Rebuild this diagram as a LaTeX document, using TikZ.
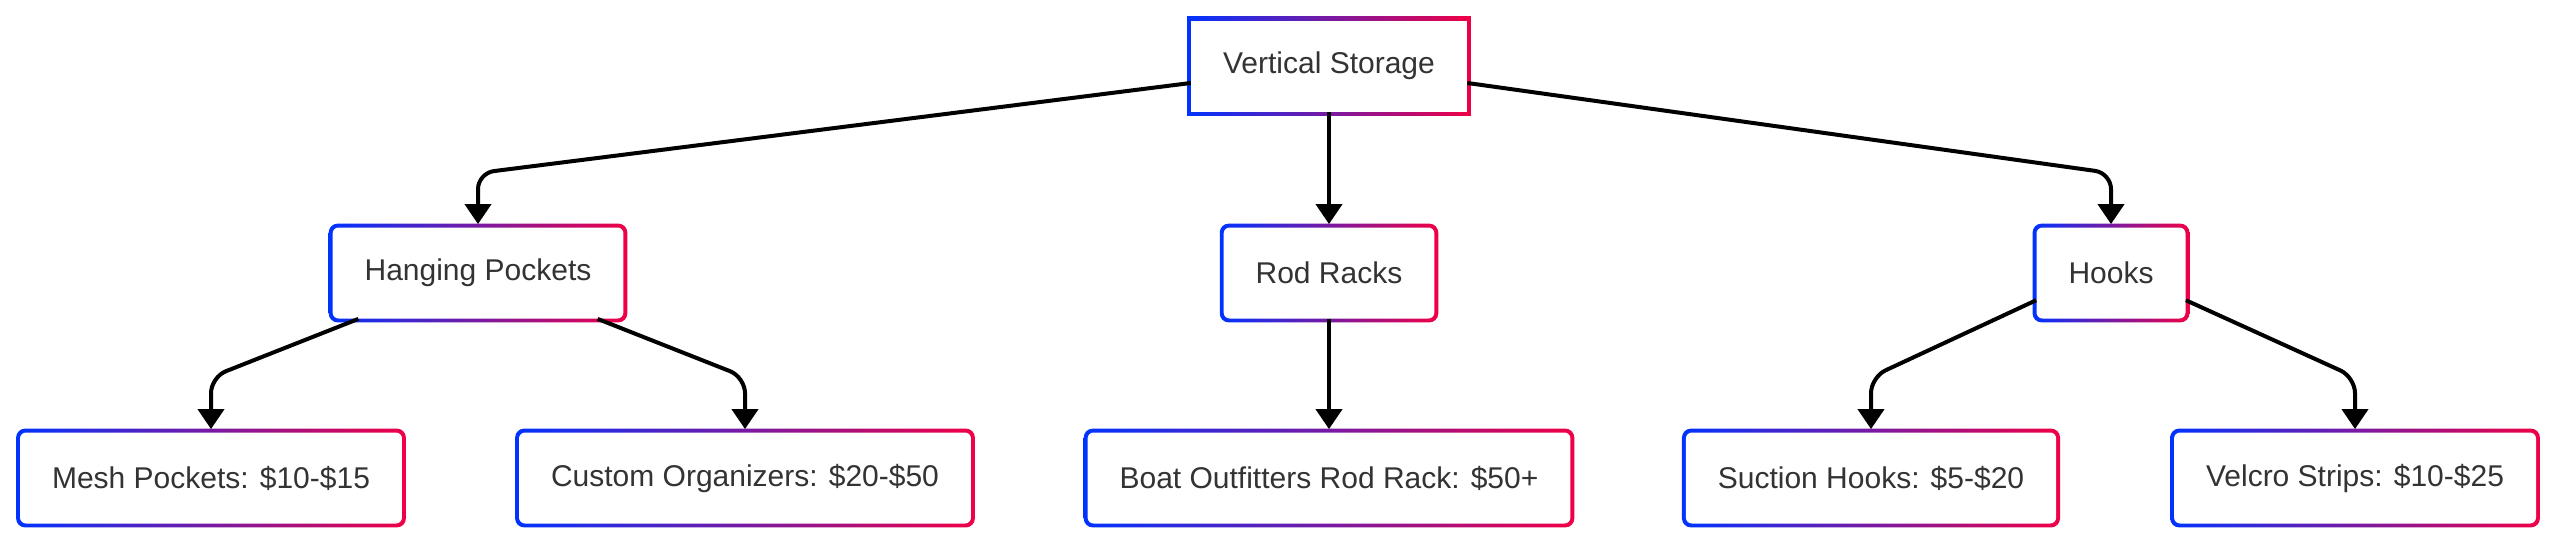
\documentclass[tikz,border=0pt]{standalone}
\usepackage{fontspec}
\setmainfont{Liberation Sans}
\usetikzlibrary{positioning,calc,backgrounds,arrows.meta}
\definecolor{vsblue}{RGB}{0,51,255}
\definecolor{vsred}{RGB}{240,0,70}
\definecolor{vstext}{RGB}{51,51,51}

\begin{document}
\begin{tikzpicture}[x=0.5pt,y=-0.5pt,
    box/.style={rectangle, fill=white, text=vstext, minimum height=45.5pt, inner xsep=16pt, rounded corners=3pt, font=\fontsize{15}{18}\selectfont},
    link/.style={line width=2pt, rounded corners=8pt, shorten >=1.5pt, -{Triangle[length=10pt,width=13pt]}}]
    \useasboundingbox (0,0) rectangle (2560,547);

    % Root
    \node[box, sharp corners] (root) at (1329,66) {Vertical Storage};

    % Categories and items
    \foreach \name/\x/\y/\text in {
        hang/478/273/Hanging Pockets,
        rod/1329/273/Rod Racks,
        hooks/2111/273/Hooks,
        mesh/211/478/Mesh Pockets: \$10-\$15,
        custom/745/478/Custom Organizers: \$20-\$50,
        boat/1329/478/Boat Outfitters Rod Rack: \$50+,
        suction/1871/478/Suction Hooks: \$5-\$20,
        velcro/2355/478/Velcro Strips: \$10-\$25
    } {
        \node[box] (\name) at (\x,\y) {\text};
    }

    % Gradient borders
    \begin{scope}[on background layer]
        \shade[left color=vsblue, right color=vsred] ([shift={(-3.5,-3.5)}]root.north west) rectangle ([shift={(3.5,3.5)}]root.south east);
        \foreach \n in {hang,rod,hooks,mesh,custom,boat,suction,velcro}
            \shade[left color=vsblue, right color=vsred, rounded corners=4.5pt] ([shift={(-3.5,-3.5)}]\n.north west) rectangle ([shift={(3.5,3.5)}]\n.south east);
    \end{scope}

    % Connectors
    \draw[link] (root.187) -- ($(hang.north)+(0,-54)$) -- (hang.north);
    \draw[link] (root.south) -- (rod.north);
    \draw[link] (root.353) -- ($(hooks.north)+(0,-54)$) -- (hooks.north);
    \draw[link] (hang.201) -- ($(mesh.north)+(0,-55)$) -- (mesh.north);
    \draw[link] (hang.339) -- ($(custom.north)+(0,-55)$) -- (custom.north);
    \draw[link] (rod.south) -- (boat.north);
    \draw[link] (hooks.200) -- ($(suction.north)+(0,-55)$) -- (suction.north);
    \draw[link] (hooks.340) -- ($(velcro.north)+(0,-55)$) -- (velcro.north);
\end{tikzpicture}
\end{document}
